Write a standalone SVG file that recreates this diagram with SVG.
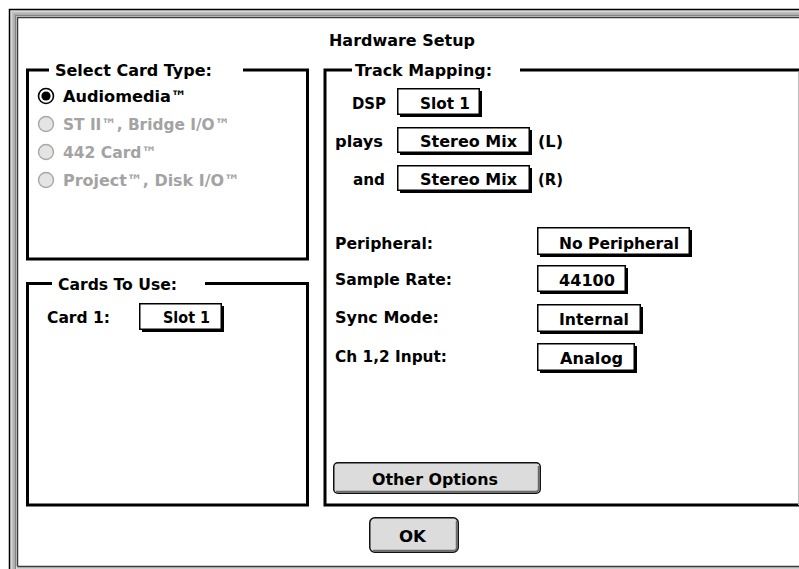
<svg xmlns="http://www.w3.org/2000/svg" width="799" height="569" viewBox="0 0 799 569">
<style>
  text { font-family: "DejaVu Sans", "Liberation Sans", sans-serif; font-weight: bold; font-size: 16px; fill: #000; }
  text.dis { fill: #a3a3a3; }
  .gbox { fill: none; stroke: #000; stroke-width: 3; }
  .pop { fill: #fff; stroke: #000; stroke-width: 1.5; }
  .shd { fill: #000; }
  .btn { fill: #dcdcdc; stroke: #111; stroke-width: 1.5; }
  .btnshd { fill: none; stroke: #6a6a6a; stroke-width: 1.5; }
</style>
<rect x="0" y="0" width="799" height="569" fill="#fff"/>

<g id="window-frame">
  <path d="M11 569 V11 H799" fill="none" stroke="#d4d4d4" stroke-width="1.5"/>
  <path d="M12.5 569 V12.5 H799" fill="none" stroke="#c0c0c0" stroke-width="1.5"/>
  <path d="M14 569 V14 H799" fill="none" stroke="#a4a4a4" stroke-width="1.5"/>
  <path d="M15.5 569 V15.5 H799" fill="none" stroke="#858585" stroke-width="1.5"/>
  <path d="M9.5 569 V9.5 H799" fill="none" stroke="#000" stroke-width="1.5"/>
  <rect x="17" y="567" width="782" height="2" fill="#cfcfcf"/>
  <path d="M17.5 566.5 V17.5 H799 M17.5 566.5 H799" fill="none" stroke="#3a3a3a" stroke-width="1.5"/>
</g>

<g id="title">
  <text x="329" y="46" textLength="146" lengthAdjust="spacingAndGlyphs">Hardware Setup</text>
</g>

<g id="select-card-type">
  <path class="gbox" d="M49 70 H27.5 V259 H307.5 V70 H243"/>
  <text x="55" y="76" textLength="157" lengthAdjust="spacingAndGlyphs">Select Card Type:</text>
  <g id="radio-audiomedia">
    <circle cx="46" cy="96" r="7.5" fill="#fff" stroke="#000" stroke-width="1.6"/>
    <circle cx="46" cy="96" r="4.6" fill="#000"/>
    <text x="63" y="102" textLength="124" lengthAdjust="spacingAndGlyphs">Audiomedia™</text>
  </g>
  <g id="radio-st2">
    <circle cx="46" cy="124" r="7.5" fill="#e4e4e4" stroke="#a8a8a8" stroke-width="1.4"/>
    <text class="dis" x="63" y="130" textLength="167" lengthAdjust="spacingAndGlyphs">ST II™, Bridge I/O™</text>
  </g>
  <g id="radio-442">
    <circle cx="46" cy="152" r="7.5" fill="#e4e4e4" stroke="#a8a8a8" stroke-width="1.4"/>
    <text class="dis" x="63" y="158" textLength="94" lengthAdjust="spacingAndGlyphs">442 Card™</text>
  </g>
  <g id="radio-project">
    <circle cx="46" cy="180" r="7.5" fill="#e4e4e4" stroke="#a8a8a8" stroke-width="1.4"/>
    <text class="dis" x="63" y="186" textLength="177" lengthAdjust="spacingAndGlyphs">Project™, Disk I/O™</text>
  </g>
</g>

<g id="cards-to-use">
  <path class="gbox" d="M52 283.5 H27.5 V505 H307.5 V283.5 H205"/>
  <text x="58" y="290" textLength="119" lengthAdjust="spacingAndGlyphs">Cards To Use:</text>
  <text x="47" y="323" textLength="63" lengthAdjust="spacingAndGlyphs">Card 1:</text>
  <g id="popup-card1">
    <rect class="pop" x="139.75" y="303.75" width="81.5" height="25.5"/>
    <rect class="shd" x="222" y="306" width="2" height="26"/>
    <rect class="shd" x="142" y="330" width="82" height="2"/>
    <text x="163" y="323" textLength="47" lengthAdjust="spacingAndGlyphs">Slot 1</text>
  </g>
</g>

<g id="track-mapping">
  <path class="gbox" d="M352 70 H325 V505 H799 M520 70 H799"/>
  <line x1="798.5" y1="71.5" x2="798.5" y2="505" stroke="#bdbdbd" stroke-width="1"/>
  <text x="355" y="76" textLength="137" lengthAdjust="spacingAndGlyphs">Track Mapping:</text>

  <text x="352" y="109" textLength="34" lengthAdjust="spacingAndGlyphs">DSP</text>
  <g id="popup-dsp">
    <rect class="pop" x="397.75" y="88.75" width="81.5" height="25.5"/>
    <rect class="shd" x="480" y="91" width="2" height="26"/>
    <rect class="shd" x="400" y="115" width="82" height="2"/>
    <text x="420" y="109" textLength="50" lengthAdjust="spacingAndGlyphs">Slot 1</text>
  </g>

  <text x="335" y="147" textLength="48" lengthAdjust="spacingAndGlyphs">plays</text>
  <g id="popup-left">
    <rect class="pop" x="397.75" y="127.75" width="131.5" height="24.5"/>
    <rect class="shd" x="530" y="130" width="2" height="25"/>
    <rect class="shd" x="400" y="153" width="132" height="2"/>
    <text x="420" y="147" textLength="97" lengthAdjust="spacingAndGlyphs">Stereo Mix</text>
  </g>
  <text x="538" y="147" textLength="25" lengthAdjust="spacingAndGlyphs">(L)</text>

  <text x="353" y="185" textLength="32" lengthAdjust="spacingAndGlyphs">and</text>
  <g id="popup-right">
    <rect class="pop" x="397.75" y="165.75" width="131.5" height="24.5"/>
    <rect class="shd" x="530" y="168" width="2" height="25"/>
    <rect class="shd" x="400" y="191" width="132" height="2"/>
    <text x="420" y="185" textLength="97" lengthAdjust="spacingAndGlyphs">Stereo Mix</text>
  </g>
  <text x="538" y="185" textLength="25" lengthAdjust="spacingAndGlyphs">(R)</text>

  <text x="335" y="249" textLength="98" lengthAdjust="spacingAndGlyphs">Peripheral:</text>
  <g id="popup-peripheral">
    <rect class="pop" x="537.75" y="227.75" width="151.5" height="26.5"/>
    <rect class="shd" x="690" y="230" width="2" height="27"/>
    <rect class="shd" x="540" y="255" width="152" height="2"/>
    <text x="559" y="249" textLength="120" lengthAdjust="spacingAndGlyphs">No Peripheral</text>
  </g>

  <text x="335" y="285" textLength="117" lengthAdjust="spacingAndGlyphs">Sample Rate:</text>
  <g id="popup-samplerate">
    <rect class="pop" x="537.75" y="265.75" width="87.5" height="25.5"/>
    <rect class="shd" x="626" y="268" width="2" height="26"/>
    <rect class="shd" x="540" y="292" width="88" height="2"/>
    <text x="559" y="286" textLength="56" lengthAdjust="spacingAndGlyphs">44100</text>
  </g>

  <text x="335" y="323" textLength="104" lengthAdjust="spacingAndGlyphs">Sync Mode:</text>
  <g id="popup-sync">
    <rect class="pop" x="537.75" y="304.75" width="102.5" height="26.5"/>
    <rect class="shd" x="641" y="307" width="2" height="27"/>
    <rect class="shd" x="540" y="332" width="103" height="2"/>
    <text x="559" y="325" textLength="70" lengthAdjust="spacingAndGlyphs">Internal</text>
  </g>

  <text x="335" y="362" textLength="112" lengthAdjust="spacingAndGlyphs">Ch 1,2 Input:</text>
  <g id="popup-input">
    <rect class="pop" x="537.75" y="343.75" width="96.5" height="26.5"/>
    <rect class="shd" x="635" y="346" width="2" height="27"/>
    <rect class="shd" x="540" y="371" width="97" height="2"/>
    <text x="560" y="364" textLength="63" lengthAdjust="spacingAndGlyphs">Analog</text>
  </g>

  <g id="btn-other-options">
    <rect class="btn" x="333.75" y="462.75" width="206.5" height="30.5" rx="4"/>
    <path class="btnshd" d="M336 491.5 H536 Q538.5 491.5 538.5 489 V466"/>
    <text x="372" y="485" textLength="126" lengthAdjust="spacingAndGlyphs">Other Options</text>
  </g>
</g>

<g id="btn-ok">
  <rect class="btn" x="369.75" y="517.75" width="88.5" height="34.5" rx="5"/>
  <path class="btnshd" d="M373 550.5 H454 Q456.5 550.5 456.5 548 V521"/>
  <text x="399" y="542" textLength="27" lengthAdjust="spacingAndGlyphs">OK</text>
</g>

<g id="connectors"/>
</svg>
